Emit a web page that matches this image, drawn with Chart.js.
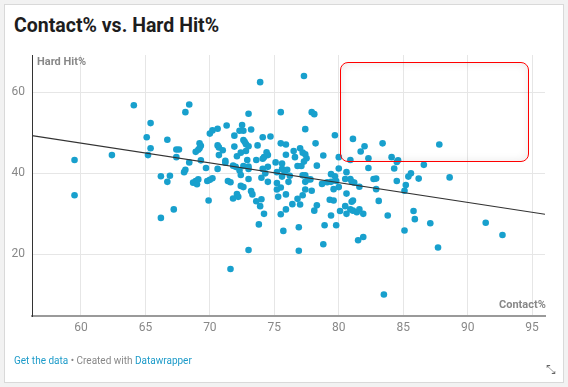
<!DOCTYPE html>
<html>
<head>
<meta charset="utf-8">
<script src="https://cdn.jsdelivr.net/npm/chart.js@4"></script>
<style>
  html, body { margin: 0; padding: 0; }
  body { width: 568px; height: 387px; background: #f2f2f2; font-family: Roboto, sans-serif; position: relative; overflow: hidden; }
  .card { position: absolute; left: 4px; top: 4px; width: 558px; height: 377px; background: #fff; border: 1px solid #d9d9d9; }
  .title { position: absolute; left: 14px; top: 14px; font-size: 19.5px; font-weight: bold; color: #1d1d1d; }
  .axis-label { position: absolute; font-size: 11px; font-weight: bold; color: #888; }
  #chartWrap { position: absolute; left: 0; top: 0; }
  .footer { position: absolute; left: 14px; top: 355px; font-size: 10px; color: #888; }
  .footer a { color: #1d9bc9; text-decoration: none; }
  .resize { position: absolute; left: 546px; top: 363px; font-size: 12px; color: #666; }
  .markup { position: absolute; left: 340px; top: 62px; width: 187px; height: 98px; border: 1.5px solid #f00; border-radius: 8px; box-shadow: inset 0 0 10px rgba(0,0,0,0.09); pointer-events: none; }
</style>
</head>
<body>
<div class="card"></div>
<div class="title">Contact% vs. Hard Hit%</div>
<div id="chartWrap"><canvas id="scatterChart" width="568" height="387"></canvas></div>
<div class="axis-label" style="left:37px; top:55px;">Hard Hit%</div>
<div class="axis-label" style="left:499px; top:298px;">Contact%</div>
<div class="markup"></div>
<div class="footer"><a href="#">Get the data</a> &bull; Created with <a href="#">Datawrapper</a></div>
<div class="resize">&#10529;</div>
<script>
// Contact% (x) and Hard Hit% (y), one entry per player
const contactPct = [
  59.5, 59.5, 62.4, 64.1, 65.4, 65.1, 65.4, 65.2, 66.7, 67.4, 67.6, 67.4, 68.4, 68.1, 68.4, 68.0,
  68.1, 66.2, 66.9, 66.7, 67.2, 66.2, 68.7, 68.9, 69.0, 69.1, 68.9, 69.2, 69.3, 69.2, 69.1, 69.3,
  69.7, 70.0, 70.2, 70.6, 71.3, 70.6, 70.7, 71.0, 70.7, 70.6, 71.2, 71.2, 71.9, 71.9, 72.1, 72.4,
  71.8, 72.0, 72.3, 72.6, 72.5, 73.0, 73.2, 72.6, 72.7, 72.8, 73.0, 72.8, 72.9, 72.6, 73.0, 73.0,
  72.3, 72.4, 73.7, 73.6, 74.1, 74.7, 74.4, 74.5, 74.2, 74.1, 74.1, 74.5, 74.0, 74.3, 75.5, 75.5,
  75.6, 75.6, 73.9, 77.3, 77.9, 78.1, 77.4, 79.7, 78.2, 75.9, 76.5, 77.0, 75.9, 76.6, 77.2, 77.4,
  77.5, 77.3, 78.8, 81.1, 82.0, 81.7, 83.4, 82.3, 80.0, 80.9, 84.1, 84.6, 84.5, 87.8, 76.8, 77.1,
  78.3, 80.0, 80.6, 82.3, 84.3, 86.6, 76.0, 77.2, 79.4, 79.7, 82.9, 82.7, 85.4, 85.6, 86.2, 80.5,
  80.9, 81.0, 81.2, 88.6, 84.5, 85.2, 85.1, 81.6, 82.9, 80.6, 80.5, 81.0, 81.1, 80.9, 81.1, 81.4,
  81.6, 81.9, 80.6, 83.1, 83.8, 85.8, 85.9, 87.1, 85.1, 81.5, 81.9, 87.7, 91.4, 92.7, 83.5, 76.1,
  77.4, 77.6, 77.8, 78.7, 79.1, 79.4, 79.8, 75.5, 77.4, 77.9, 79.6, 80.0, 75.9, 77.2, 76.8, 76.4,
  77.0, 78.3, 78.1, 79.3, 79.6, 75.5, 75.9, 80.1, 79.4, 75.7, 76.9, 78.9, 79.8, 78.8, 76.9, 73.0,
  71.6, 73.8, 74.2, 73.9, 73.6, 74.0, 73.2, 73.3, 72.1, 72.2, 71.8, 72.4, 72.6, 75.3, 75.2, 69.9,
  69.8, 70.0, 70.2, 71.4, 71.6, 73.0, 75.2, 74.5, 75.1, 75.2, 75.6, 75.8, 76.2, 77.4
];
const hardHitPct = [
  43.3, 34.6, 44.5, 56.8, 52.4, 48.9, 46.2, 44.5, 48.3, 45.9, 45.9, 44.0, 57.0, 55.1, 42.7, 40.3,
  40.9, 39.3, 39.4, 37.9, 31.1, 29.0, 37.7, 38.1, 37.3, 38.5, 45.3, 47.4, 46.8, 46.2, 45.8, 43.2,
  41.3, 49.8, 50.6, 51.0, 51.8, 46.9, 46.4, 45.7, 44.5, 41.1, 43.1, 42.6, 49.3, 46.6, 44.2, 45.1,
  41.9, 41.6, 50.5, 50.5, 51.9, 54.7, 50.8, 48.2, 47.8, 47.2, 46.7, 45.5, 43.3, 41.8, 41.7, 41.1,
  40.7, 39.6, 46.9, 43.3, 48.9, 49.1, 45.2, 44.5, 44.0, 43.6, 41.1, 41.6, 38.9, 40.0, 55.1, 47.4,
  42.4, 39.2, 62.5, 64.0, 55.1, 54.6, 50.9, 49.4, 47.4, 47.1, 45.5, 46.2, 44.6, 44.0, 45.1, 44.7,
  43.7, 42.9, 44.4, 48.5, 46.7, 45.4, 47.4, 43.7, 44.0, 43.3, 44.0, 43.2, 42.8, 47.1, 41.8, 41.8,
  41.9, 41.2, 40.3, 41.3, 41.2, 42.1, 40.9, 39.5, 39.8, 39.3, 38.7, 38.6, 39.2, 40.0, 38.7, 38.6,
  38.6, 38.0, 37.7, 39.0, 38.1, 37.1, 35.7, 36.7, 36.1, 35.0, 31.9, 33.0, 33.3, 31.1, 30.8, 30.4,
  31.1, 30.0, 30.0, 33.2, 29.6, 30.7, 28.7, 27.7, 25.9, 23.5, 24.3, 21.7, 27.8, 24.8, 10.1, 37.9,
  37.9, 38.5, 38.5, 37.4, 37.8, 37.9, 38.1, 36.5, 36.0, 35.7, 36.1, 36.6, 34.8, 34.6, 33.7, 32.4,
  32.3, 32.1, 30.8, 33.5, 33.3, 29.9, 31.1, 30.7, 29.6, 25.8, 26.7, 27.2, 27.2, 22.5, 20.9, 21.1,
  16.4, 27.4, 30.0, 31.9, 33.1, 33.6, 35.6, 34.8, 34.9, 34.2, 33.8, 36.9, 36.6, 34.2, 36.0, 33.3,
  38.1, 38.4, 38.8, 38.1, 37.8, 38.6, 37.6, 37.9, 42.7, 40.3, 41.1, 40.3, 39.4, 39.5
];

// trend line end points
const trendContact = [56.2, 96.0];
const trendHardHit = [49.3, 29.9];

const xTicks = [60, 65, 70, 75, 80, 85, 90, 95];
const yTicks = [20, 40, 60];

const players = contactPct.map((c, i) => ({ x: c, y: hardHitPct[i] }));
const trend = trendContact.map((c, i) => ({ x: c, y: trendHardHit[i] }));

const tickFont = { family: 'Roboto', size: 12 };

new Chart(document.getElementById('scatterChart'), {
  type: 'scatter',
  data: {
    datasets: [{
      type: 'line',
      data: trend,
      borderColor: '#333',
      borderWidth: 1.2,
      pointRadius: 0,
      fill: false,
      order: 0
    }, {
      data: players,
      backgroundColor: '#18a0cd',
      borderWidth: 0,
      pointRadius: 3.3,
      order: 1
    }]
  },
  options: {
    responsive: false,
    animation: false,
    layout: { padding: { left: 0, right: 23, top: 55, bottom: 51 } },
    plugins: { legend: { display: false }, tooltip: { enabled: false } },
    scales: {
      x: {
        type: 'linear',
        min: 56.2,
        max: 96,
        afterBuildTicks: s => { s.ticks = xTicks.map(v => ({ value: v })); },
        afterFit: s => { s.height = 20; },
        grid: { color: '#e6e6e6', drawTicks: false },
        border: { color: '#9a9a9a', width: 2 },
        ticks: { color: '#888', font: tickFont, padding: 5 }
      },
      y: {
        min: 4.8,
        max: 69.2,
        afterBuildTicks: s => { s.ticks = yTicks.map(v => ({ value: v })); },
        afterFit: s => { s.width = 32; },
        grid: { color: '#e6e6e6', drawTicks: false },
        border: { color: '#333', width: 1 },
        ticks: { color: '#888', font: tickFont, padding: 7 }
      }
    }
  }
});
</script>
</body>
</html>
